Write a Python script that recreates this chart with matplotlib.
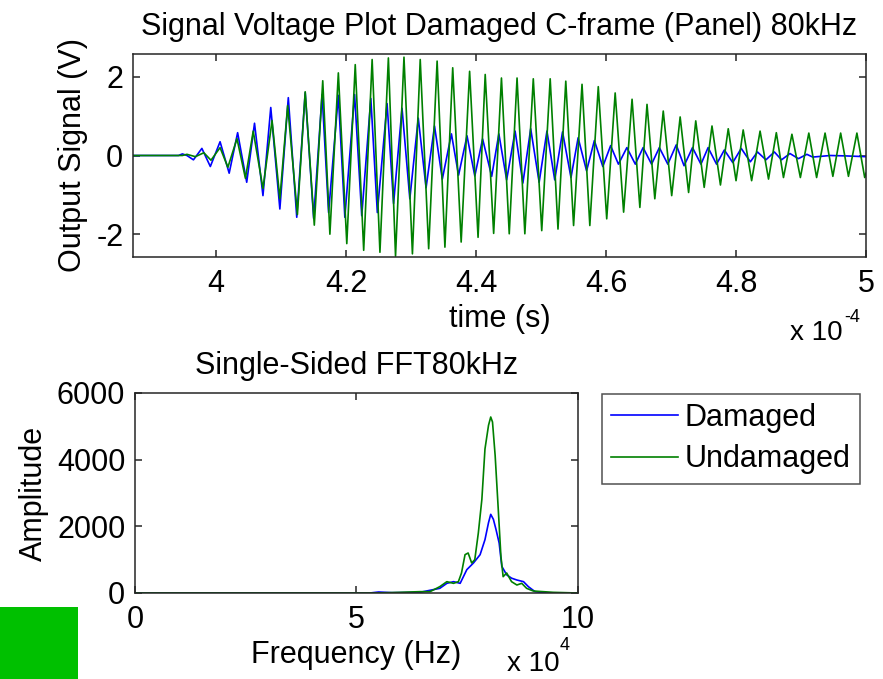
import matplotlib
matplotlib.use("Agg")
import matplotlib.pyplot as plt
from matplotlib.patches import Rectangle

plt.rcParams['font.family'] = ['Liberation Sans', 'DejaVu Sans']
plt.rcParams['axes.unicode_minus'] = False

# ---- time signal extrema (time in units of 1e-4 s, voltage in V) ----
green_t = [3.872, 3.948, 3.955, 3.968, 3.981, 3.992, 4.006, 4.018, 4.032, 4.045,
           4.057, 4.072, 4.086, 4.098, 4.110, 4.125, 4.137, 4.151, 4.164, 4.175,
           4.188, 4.201, 4.214, 4.227, 4.240, 4.252, 4.265, 4.276, 4.289, 4.302,
           4.314, 4.327, 4.340, 4.352, 4.364, 4.377, 4.390, 4.403, 4.414, 4.427,
           4.439, 4.451, 4.463, 4.475, 4.488, 4.501, 4.514, 4.526, 4.538, 4.550,
           4.563, 4.575, 4.588, 4.601, 4.614, 4.627, 4.640, 4.652, 4.663, 4.675,
           4.688, 4.701, 4.714, 4.727, 4.738, 4.751, 4.763, 4.776, 4.788, 4.800,
           4.811, 4.824, 4.837, 4.850, 4.862, 4.873, 4.886, 4.899, 4.912, 4.924,
           4.937, 4.949, 4.961, 4.973, 4.986, 4.998, 5.000]
green_v = [0.0, 0.0, 0.03, -0.03, 0.07, -0.12, 0.20, -0.30, 0.43, -0.58,
           0.62, -0.84, 0.89, -1.10, 1.27, -1.50, 1.62, -1.77, 1.90, -2.00,
           2.10, -2.24, 2.31, -2.41, 2.44, -2.46, 2.48, -2.56, 2.50, -2.50,
           2.44, -2.37, 2.40, -2.33, 2.23, -2.20, 2.14, -2.08, 2.06, -1.98,
           1.97, -1.99, 1.97, -1.99, 1.95, -1.91, 1.95, -1.87, 1.89, -1.78,
           1.81, -1.78, 1.75, -1.61, 1.59, -1.44, 1.43, -1.32, 1.30, -1.10,
           1.13, -1.02, 0.98, -0.94, 0.88, -0.81, 0.75, -0.75, 0.68, -0.64,
           0.65, -0.64, 0.62, -0.60, 0.58, -0.56, 0.54, -0.56, 0.57, -0.56,
           0.57, -0.53, 0.57, -0.53, 0.57, -0.56, -0.45]

blue_t = [3.872, 3.942, 3.948, 3.955, 3.965, 3.978, 3.991, 4.006, 4.020, 4.033,
          4.047, 4.059, 4.072, 4.084, 4.098, 4.111, 4.124, 4.137, 4.150, 4.163,
          4.173, 4.188, 4.198, 4.213, 4.224, 4.238, 4.248, 4.263, 4.273, 4.286,
          4.298, 4.311, 4.323, 4.336, 4.348, 4.362, 4.373, 4.386, 4.398, 4.410,
          4.424, 4.435, 4.447, 4.460, 4.472, 4.484, 4.497, 4.509, 4.521, 4.533,
          4.546, 4.557, 4.570, 4.582, 4.595, 4.607, 4.619, 4.632, 4.645, 4.657,
          4.670, 4.682, 4.695, 4.708, 4.720, 4.733, 4.746, 4.757, 4.770, 4.782,
          4.795, 4.808, 4.822, 4.833, 4.846, 4.859, 4.870, 4.883, 4.896, 4.909,
          4.918, 4.945, 4.968, 5.000]
blue_v = [0.0, 0.0, 0.04, 0.0, -0.11, 0.18, -0.28, 0.35, -0.45, 0.58,
          -0.68, 0.82, -1.02, 1.22, -1.36, 1.47, -1.57, 1.60, -1.60, 1.55,
          -1.45, 1.53, -1.57, 1.55, -1.53, 1.45, -1.45, 1.32, -1.22, 1.20,
          -1.10, 0.95, -0.82, 0.75, -0.60, 0.55, -0.50, 0.50, -0.52, 0.42,
          -0.53, 0.55, -0.62, 0.62, -0.70, 0.68, -0.68, 0.62, -0.62, 0.60,
          -0.56, 0.45, -0.39, 0.38, -0.28, 0.25, -0.22, 0.20, -0.22, 0.20,
          -0.22, 0.20, -0.22, 0.27, -0.26, 0.20, -0.22, 0.20, -0.22, 0.14,
          -0.18, 0.18, -0.16, 0.09, -0.11, 0.09, -0.11, 0.05, -0.08, 0.03,
          -0.04, 0.0, -0.01, -0.03]

# ---- FFT (frequency in units of 1e4 Hz) ----
fft_green_f = [0, 5.42, 5.98, 6.43, 6.66, 6.88, 7.04, 7.19, 7.30, 7.37, 7.45, 7.52,
               7.60, 7.67, 7.75, 7.83, 7.90, 7.98, 8.03, 8.07, 8.13, 8.20, 8.26,
               8.31, 8.39, 8.50, 8.62, 8.73, 8.84, 8.99, 9.44, 10.0]
fft_green_a = [0, 0, 20, 40, 40, 190, 340, 290, 340, 600, 1150, 1200,
               900, 1000, 1800, 2810, 4320, 5030, 5280, 5130, 4120, 2510, 1100,
               490, 600, 340, 240, 290, 140, 60, 20, 0]
fft_blue_f = [0, 5.30, 5.50, 5.80, 6.43, 6.88, 7.04, 7.19, 7.34, 7.49, 7.64, 7.79,
              7.90, 7.98, 8.03, 8.09, 8.15, 8.22, 8.28, 8.39, 8.50, 8.62, 8.77,
              8.88, 9.03, 9.29, 10.0]
fft_blue_a = [0, 0, 30, 10, 20, 140, 290, 340, 290, 700, 900, 1150,
              1600, 2110, 2360, 2210, 1900, 1500, 800, 545, 445, 390, 340,
              190, 40, 0, 0]

top_xticks = [4, 4.2, 4.4, 4.6, 4.8, 5]
top_yticks = [-2, 0, 2]
bot_xticks = [0, 5, 10]
bot_yticks = [0, 2000, 4000, 6000]

BLUE = '#0000FF'
GREEN = '#008000'
FS = 22
FS_MULT = 20
FS_SUP = 13

fig = plt.figure(figsize=(8.83, 6.79), dpi=100)
W, H = 883, 679

def box(l, t, r, b):
    return [l / W, 1 - b / H, (r - l) / W, (b - t) / H]

def px(x, y):
    return x / W, 1 - y / H

def style(ax):
    for s in ax.spines.values():
        s.set_linewidth(1.1)
        s.set_color('#262626')
    ax.tick_params(direction='in', top=True, right=True, length=5, width=1.1,
                   labelsize=FS, color='#262626')
    ax.tick_params(axis='x', pad=9)
    ax.tick_params(axis='y', pad=7)

ax1 = fig.add_axes(box(133, 54, 866, 257))
ax1.plot(blue_t, blue_v, color=BLUE, lw=1.2)
ax1.plot(green_t, green_v, color=GREEN, lw=1.2)
ax1.set_xlim(3.872, 5.0)
ax1.set_ylim(-2.58, 2.58)
ax1.set_xticks(top_xticks)
ax1.set_xticklabels([f"{v:g}" for v in top_xticks])
ax1.set_yticks(top_yticks)
style(ax1)
ax1.set_title("Signal Voltage Plot Damaged C-frame (Panel) 80kHz", fontsize=FS, pad=14)
ax1.set_xlabel("time (s)", fontsize=FS, labelpad=3)
ax1.set_ylabel("Output Signal (V)", fontsize=FS, labelpad=6)
fig.text(*px(790, 340), "x 10", fontsize=FS_MULT, ha='left', va='baseline')
fig.text(*px(844, 322), "-4", fontsize=FS_SUP, ha='left', va='baseline')

ax2 = fig.add_axes(box(135, 393, 578, 593))
l1, = ax2.plot(fft_blue_f, fft_blue_a, color=BLUE, lw=1.2)
l2, = ax2.plot(fft_green_f, fft_green_a, color=GREEN, lw=1.2)
ax2.set_xlim(0, 10)
ax2.set_ylim(0, 6000)
ax2.set_xticks(bot_xticks)
ax2.set_yticks(bot_yticks)
style(ax2)
ax2.set_title("Single-Sided FFT80kHz", fontsize=FS, pad=14)
ax2.set_xlabel("Frequency (Hz)", fontsize=FS, labelpad=3)
ax2.set_ylabel("Amplitude", fontsize=FS, labelpad=6)
fig.text(*px(507, 671), "x 10", fontsize=FS_MULT, ha='left', va='baseline')
fig.text(*px(560, 650), "4", fontsize=FS_SUP, ha='left', va='baseline')

leg = fig.legend([l1, l2], ["Damaged", "Undamaged"], loc='upper left',
                 bbox_to_anchor=(602 / W, 1 - 394 / H), fontsize=FS,
                 frameon=True, fancybox=False, edgecolor='#262626',
                 handlelength=2.2, borderpad=0.3, labelspacing=0.37,
                 handletextpad=0.2, borderaxespad=0)
leg.get_frame().set_linewidth(1.1)

fig.patches.append(Rectangle((0, 0), 78 / W, 72 / H, transform=fig.transFigure,
                             facecolor='#00C000', edgecolor='none', figure=fig))

fig.savefig("out.png", dpi=100)
